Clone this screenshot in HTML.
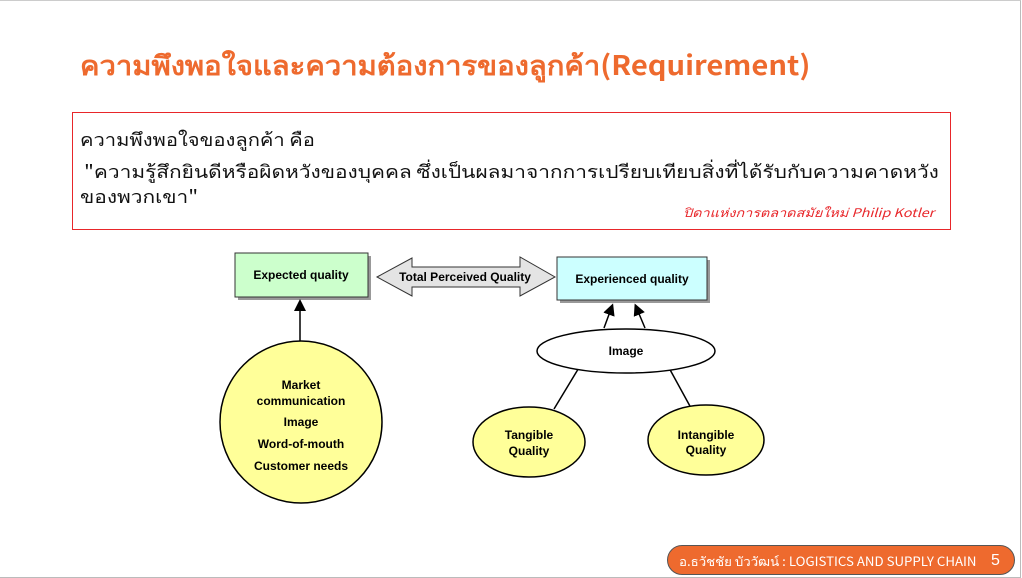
<!DOCTYPE html>
<html><head><meta charset="utf-8"><style>
body{margin:0;width:1022px;height:578px;background:#fff;position:relative;overflow:hidden;font-family:"Liberation Sans","Noto Sans CJK SC",sans-serif;}
.abs{position:absolute;white-space:nowrap;transform-origin:0 0}
</style></head><body>
<div style="position:absolute;left:0;top:0;width:1020px;height:576px;border-top:1px solid #ccc;border-right:1px solid #bbb;border-bottom:1px solid #bbb"></div>
<div class="abs" style="left:80px;top:44px;font-size:27px;font-weight:bold;color:#EE6A2E;font-family:'Noto Sans CJK SC',sans-serif;transform:scaleX(1.08)">ความพึงพอใจและความต้องการของลูกค้า(Requirement)</div>
<div style="position:absolute;left:72px;top:112px;width:877px;height:116px;border:1px solid #e8262a"></div>
<div class="abs" style="left:80px;top:125px;font-size:18px;color:#111;font-family:'Noto Sans CJK SC',sans-serif;transform:scaleX(1.12)">ความพึงพอใจของลูกค้า  คือ</div>
<div class="abs" style="left:84px;top:157px;font-size:18px;color:#111;font-family:'Noto Sans CJK SC',sans-serif;transform:scaleX(1.16)">"ความรู้สึกยินดีหรือผิดหวังของบุคคล ซึ่งเป็นผลมาจากการเปรียบเทียบสิ่งที่ได้รับกับความคาดหวัง</div>
<div class="abs" style="left:80px;top:182px;font-size:18px;color:#111;font-family:'Noto Sans CJK SC',sans-serif;transform:scaleX(1.16)">ของพวกเขา"</div>
<div class="abs" style="left:683px;top:204px;font-size:12px;color:#e8262a;font-style:italic;font-family:'Noto Sans CJK SC',sans-serif;transform:scaleX(1.2)">ปิดาแห่งการตลาดสมัยใหม่ Philip Kotler</div>
<svg style="position:absolute;left:0;top:0" width="1022" height="578" font-family="Liberation Sans,sans-serif" font-weight="bold" font-size="12">
<defs><marker id="a" markerWidth="8" markerHeight="8" refX="4" refY="4" orient="auto"><path d="M0,0L8,4L0,8z" fill="#000"/></marker></defs>
<rect x="238" y="256" width="133" height="44" fill="#999"/>
<rect x="235" y="253" width="133" height="44" fill="#CCFFCC" stroke="#333"/>
<text x="301" y="279" text-anchor="middle">Expected quality</text>
<rect x="560" y="260" width="150" height="43" fill="#999"/>
<rect x="557" y="257" width="150" height="43" fill="#CCFFFF" stroke="#333"/>
<text x="632" y="283" text-anchor="middle">Experienced quality</text>
<path d="M377,277 L412,258 L412,267 L520,267 L520,257 L555,277 L520,296 L520,287 L412,287 L412,296 Z" fill="#e4e4e4" stroke="#333"/>
<text x="465" y="281" text-anchor="middle">Total Perceived Quality</text>
<line x1="300" y1="342" x2="300" y2="305" stroke="#000" stroke-width="1.5" marker-end="url(#a)"/>
<circle cx="301" cy="422" r="81" fill="#FFFF99" stroke="#000" stroke-width="1.5"/>
<text x="301" y="389" text-anchor="middle">Market</text>
<text x="301" y="405" text-anchor="middle">communication</text>
<text x="301" y="426" text-anchor="middle">Image</text>
<text x="301" y="448" text-anchor="middle">Word-of-mouth</text>
<text x="301" y="470" text-anchor="middle">Customer needs</text>
<line x1="604" y1="328" x2="611" y2="309" stroke="#000" stroke-width="1.5" marker-end="url(#a)"/>
<line x1="645" y1="328" x2="637" y2="309" stroke="#000" stroke-width="1.5" marker-end="url(#a)"/>
<line x1="580" y1="366" x2="554" y2="409" stroke="#000" stroke-width="1.5"/>
<line x1="668" y1="366" x2="691" y2="408" stroke="#000" stroke-width="1.5"/>
<ellipse cx="626" cy="351" rx="89" ry="22" fill="#fff" stroke="#000" stroke-width="1.5"/>
<text x="626" y="355" text-anchor="middle">Image</text>
<ellipse cx="529" cy="442" rx="56" ry="35" fill="#FFFF99" stroke="#000" stroke-width="1.5"/>
<text x="529" y="439" text-anchor="middle">Tangible</text>
<text x="529" y="455" text-anchor="middle">Quality</text>
<ellipse cx="706" cy="440" rx="58" ry="35" fill="#FFFF99" stroke="#000" stroke-width="1.5"/>
<text x="706" y="439" text-anchor="middle">Intangible</text>
<text x="706" y="454" text-anchor="middle">Quality</text>
</svg>
<div style="position:absolute;left:667px;top:545px;width:348px;height:30px;border-radius:15px;background:#EE6A2E;border:1px solid #555;box-sizing:border-box"></div>
<div class="abs" style="left:679px;top:551px;font-size:12.5px;color:#fff;font-family:'Noto Sans CJK SC',sans-serif;transform:scaleX(1.06)">อ.ธวัชชัย บัววัฒน์ : LOGISTICS AND SUPPLY CHAIN</div>
<div class="abs" style="left:991px;top:552px;font-size:16px;color:#fff">5</div>
</body></html>
